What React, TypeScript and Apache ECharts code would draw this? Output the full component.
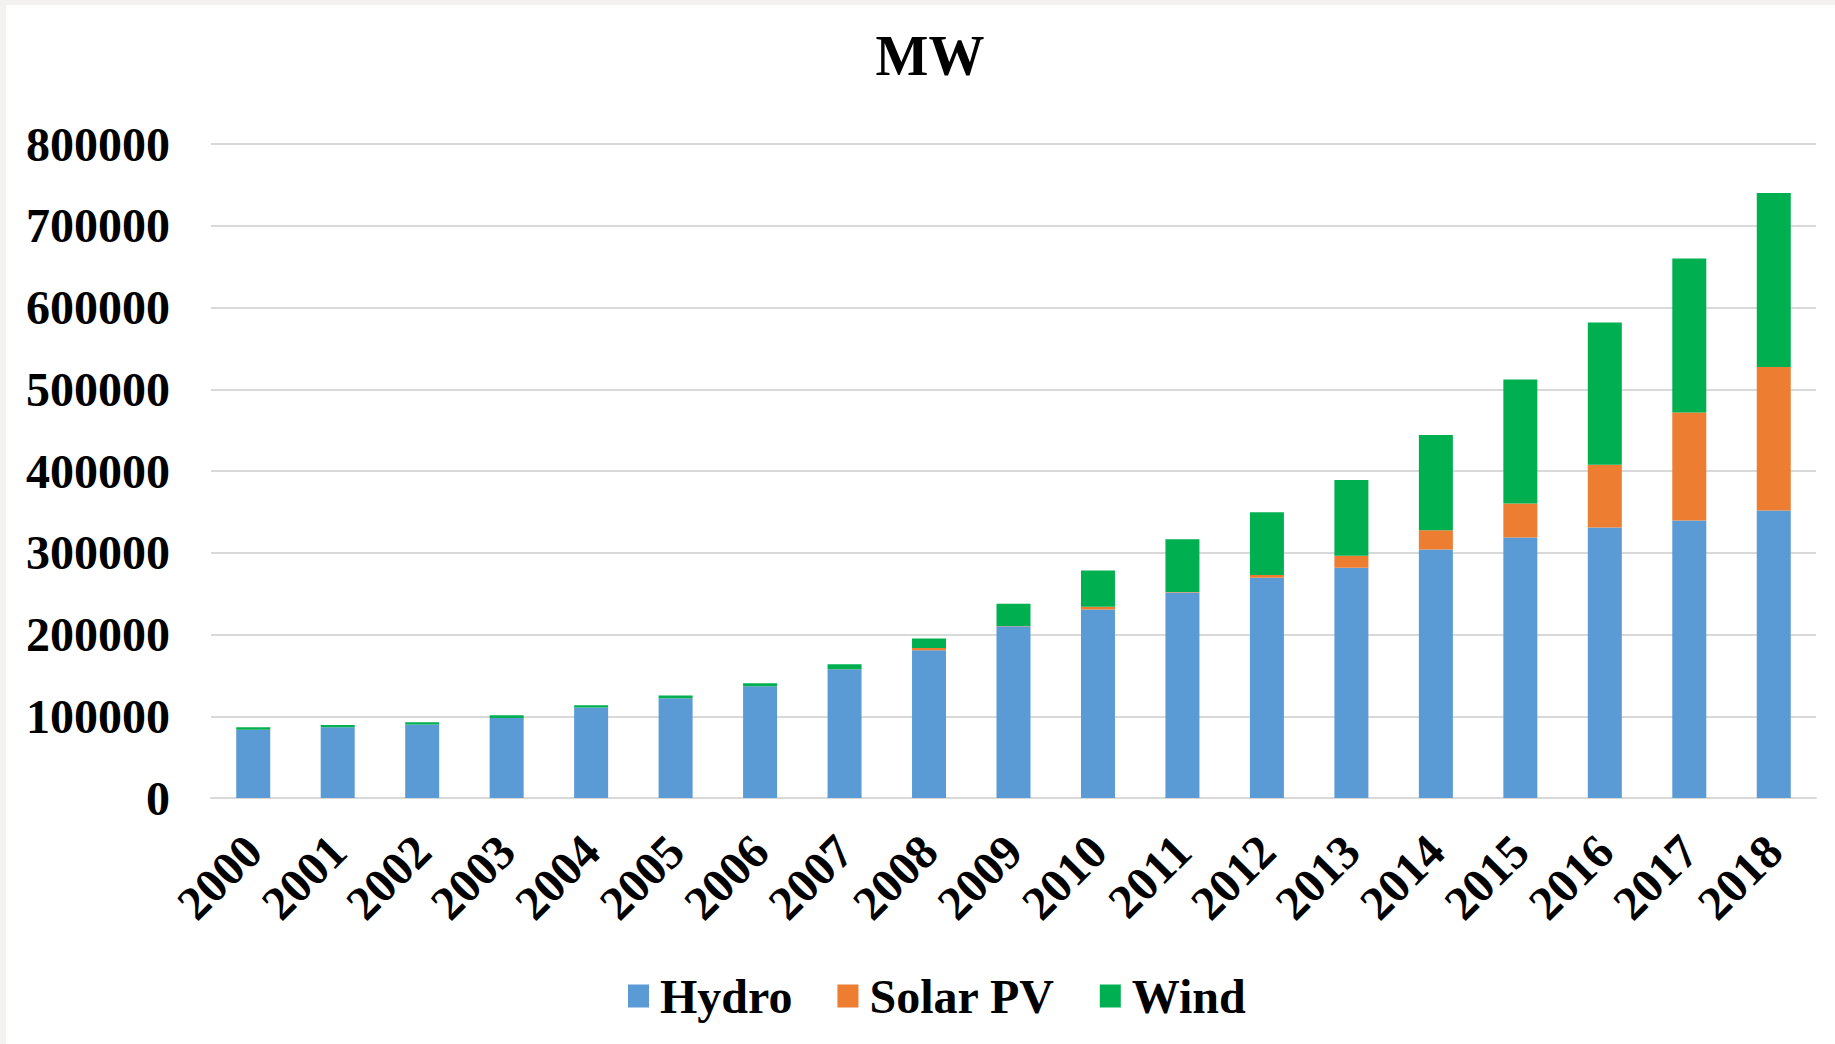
import React, { useEffect, useRef } from "react";
import * as echarts from "echarts";

const years = ["2000","2001","2002","2003","2004","2005","2006","2007","2008","2009","2010","2011","2012","2013","2014","2015","2016","2017","2018"];
const hydro = [83600, 86500, 89800, 98000, 110600, 122000, 136800, 157500, 180600, 210200, 230600, 251400, 269400, 281500, 304000, 318700, 330800, 339300, 351800];
const solarPV = [0, 0, 0, 0, 0, 0, 0, 0, 2900, 300, 3200, 600, 3300, 14900, 23500, 41600, 76700, 132200, 175400];
const wind = [2800, 2900, 2900, 3200, 2900, 3300, 3700, 6100, 11600, 27100, 44400, 64500, 76800, 92500, 116500, 151700, 174100, 188500, 212800];
const yTicks = { min: 0, max: 800000, interval: 100000 };

const FONT = '"Liberation Serif", "Times New Roman", serif';

export default function App() {
  const ref = useRef<HTMLDivElement>(null);
  useEffect(() => {
    if (!ref.current) return;
    const chart = echarts.init(ref.current, null, { renderer: "svg" });
    const barStyle = (color: string) => ({ color });
    chart.setOption({
      animation: false,
      backgroundColor: "#ffffff",
      graphic: [
        {
          type: "text",
          x: 924,
          y: 51,
          style: {
            text: "MW",
            font: `bold 56px ${FONT}`,
            fill: "#000",
            textAlign: "center",
            textVerticalAlign: "middle",
          },
        },
      ],
      legend: {
        left: 617,
        top: 962,
        itemWidth: 21,
        itemHeight: 23,
        itemGap: 45,
        icon: "rect",
        textStyle: { fontFamily: FONT, fontWeight: "bold", fontSize: 48, color: "#000", padding: [0, 0, 0, 6] },
        data: ["Hydro", "Solar PV", "Wind"],
      },
      grid: { left: 205, right: 19, top: 139, bottom: 246, containLabel: false },
      xAxis: {
        type: "category",
        data: years,
        axisTick: { show: false },
        axisLine: { show: true, lineStyle: { color: "#d9d9d9", width: 2 } },
        axisLabel: {
          rotate: 45,
          margin: 45,
          interval: 0,
          fontFamily: FONT,
          fontWeight: "bold",
          fontSize: 48,
          color: "#000",
        },
      },
      yAxis: {
        type: "value",
        min: yTicks.min,
        max: yTicks.max,
        interval: yTicks.interval,
        axisLine: { show: false },
        axisTick: { show: false },
        splitLine: { lineStyle: { color: "#d9d9d9", width: 2 } },
        axisLabel: {
          margin: 41,
          fontFamily: FONT,
          fontWeight: "bold",
          fontSize: 48,
          color: "#000",
          formatter: (v: number) => String(v),
        },
      },
      series: [
        { name: "Hydro", type: "bar", stack: "total", barWidth: 34, data: hydro, itemStyle: barStyle("#5b9bd5") },
        { name: "Solar PV", type: "bar", stack: "total", barWidth: 34, data: solarPV, itemStyle: barStyle("#ed7d31") },
        { name: "Wind", type: "bar", stack: "total", barWidth: 34, data: wind, itemStyle: barStyle("#00b050") },
      ],
    });
    return () => chart.dispose();
  }, []);
  return (
    <div style={{ position: "fixed", left: 0, top: 0, width: 1835, height: 1044, background: "#f3f2f1" }}>
      <div ref={ref} style={{ position: "absolute", left: 6, top: 5, width: 1829, height: 1039, background: "#fff" }} />
    </div>
  );
}
